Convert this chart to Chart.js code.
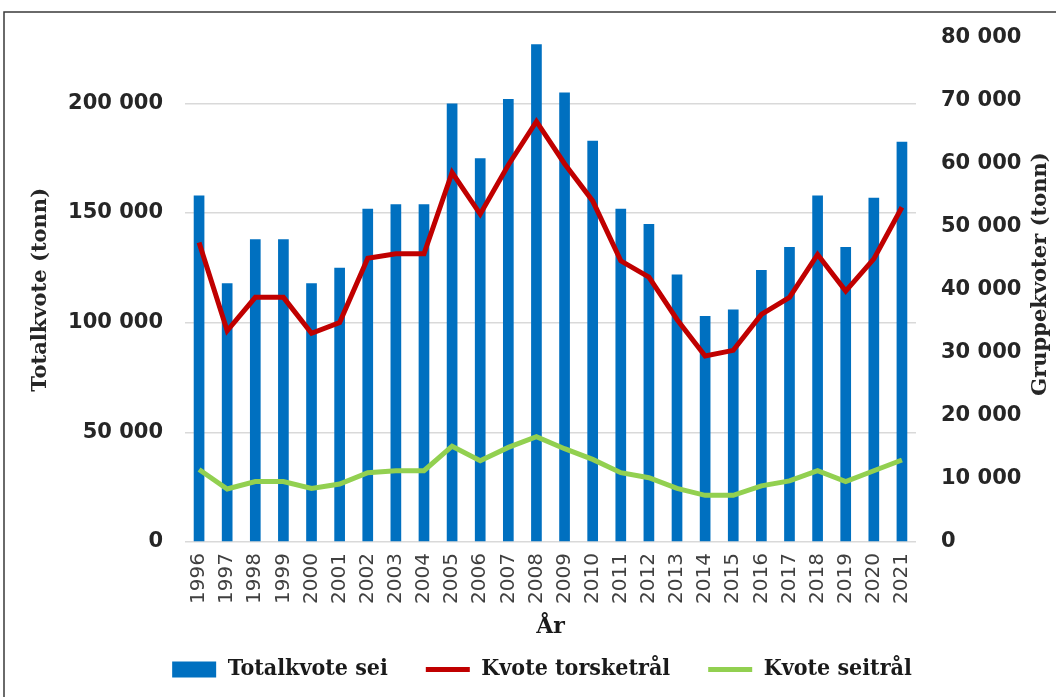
<!DOCTYPE html>
<html>
<head>
<meta charset="utf-8">
<script src="https://cdn.jsdelivr.net/npm/chart.js@4.4.0/dist/chart.umd.min.js"></script>
<style>
    html, body { margin: 0; padding: 0; background: #fff; overflow: hidden; }
</style>
</head>
<body>
<canvas id="quotaChart" width="1056" height="697"></canvas>
<script>
// data
const years = ['1996', '1997', '1998', '1999', '2000', '2001', '2002', '2003', '2004', '2005', '2006', '2007', '2008',
    '2009', '2010', '2011', '2012', '2013', '2014', '2015', '2016', '2017', '2018', '2019', '2020', '2021'];
const totalkvoteSei = [158000, 118000, 138000, 138000, 118000, 125000, 152000, 154000, 154000, 200000, 175000, 202000, 227000,
    205000, 183000, 152000, 145000, 122000, 103000, 106000, 124000, 134500, 158000, 134500, 157000, 182500];
const kvoteTorsketral = [47500, 33500, 38800, 38800, 33100, 34800, 45000, 45700, 45700, 58600, 52000, 59800, 66700,
    60000, 54100, 44600, 42000, 35300, 29500, 30400, 36100, 38800, 45600, 39800, 44900, 53100];
const kvoteSeitral = [11500, 8400, 9600, 9600, 8500, 9200, 11000, 11300, 11300, 15200, 12900, 15000, 16700,
    14800, 13100, 11000, 10200, 8500, 7400, 7400, 8900, 9700, 11300, 9600, 11300, 13000];
const leftTicks = [0, 50000, 100000, 150000, 200000];

const serif = '"DejaVu Serif", serif';
const serifCond = '"DejaVu Serif Condensed", "DejaVu Serif", serif';
const sans = '"DejaVu Sans", sans-serif';

function fmt(v) {
    return String(v).replace(/\B(?=(\d{3})+(?!\d))/g, ' ');
}

// outer frame of the figure
const framePlugin = {
    id: 'frame',
    beforeDraw(chart) {
        const ctx = chart.ctx;
        ctx.save();
        ctx.strokeStyle = '#3a3a3a';
        ctx.lineWidth = 1.5;
        ctx.beginPath();
        ctx.moveTo(4, chart.height + 5);
        ctx.lineTo(4, 12);
        ctx.lineTo(chart.width + 5, 12);
        ctx.stroke();
        ctx.restore();
    }
};

// right axis title reads bottom-to-top like the left one
const rightTitlePlugin = {
    id: 'rightTitle',
    afterDraw(chart) {
        const ctx = chart.ctx;
        ctx.save();
        ctx.translate(chart.width - 15, 274);
        ctx.rotate(-Math.PI / 2);
        ctx.font = 'bold 21px ' + serif;
        ctx.fillStyle = '#262626';
        ctx.textAlign = 'center';
        ctx.textBaseline = 'middle';
        ctx.fillText('Gruppekvoter (tonn)', 0, 0);
        ctx.restore();
    }
};

const ctx = document.getElementById('quotaChart').getContext('2d');
new Chart(ctx, {
    type: 'bar',
    data: {
        labels: years,
        datasets: [{
            label: 'Totalkvote sei',
            data: totalkvoteSei,
            backgroundColor: '#0070C0',
            yAxisID: 'y',
            order: 1,
            pointStyle: 'rect',
            barPercentage: 0.38,
            categoryPercentage: 1
        }, {
            type: 'line',
            label: 'Kvote torsketrål',
            data: kvoteTorsketral,
            borderColor: '#C00000',
            backgroundColor: '#C00000',
            borderWidth: 5,
            pointRadius: 0,
            pointStyle: 'line',
            tension: 0,
            yAxisID: 'y1',
            order: 0
        }, {
            type: 'line',
            label: 'Kvote seitrål',
            data: kvoteSeitral,
            borderColor: '#92D050',
            backgroundColor: '#92D050',
            borderWidth: 5,
            pointRadius: 0,
            pointStyle: 'line',
            tension: 0,
            yAxisID: 'y1',
            order: 0
        }]
    },
    options: {
        responsive: false,
        animation: false,
        layout: { padding: { top: 37, left: 28, right: 0, bottom: 6 } },
        plugins: {
            tooltip: { enabled: false },
            legend: {
                position: 'bottom',
                labels: {
                    usePointStyle: true,
                    pointStyleWidth: 44,
                    boxHeight: 16,
                    padding: 38,
                    color: '#1a1a1a',
                    font: { family: serifCond, size: 23, weight: 'bold' },
                    sort: (a, b) => a.datasetIndex - b.datasetIndex
                }
            }
        },
        scales: {
            x: {
                grid: { display: false },
                border: { display: false },
                ticks: {
                    minRotation: 90,
                    maxRotation: 90,
                    padding: 3,
                    color: '#404040',
                    font: { family: sans, size: 20 }
                },
                title: {
                    display: true,
                    text: 'År',
                    color: '#1a1a1a',
                    font: { family: serif, size: 22, weight: 'bold' },
                    padding: { top: 0, bottom: -20 }
                },
                afterFit: s => { s.height = 78; }
            },
            y: {
                position: 'left',
                min: 0,
                max: 230000,
                afterBuildTicks: axis => { axis.ticks = leftTicks.map(v => ({ value: v })); },
                grid: { color: '#d9d9d9', lineWidth: 1.5, drawTicks: false },
                border: { display: false },
                ticks: {
                    padding: 22,
                    color: '#262626',
                    font: { family: sans, size: 21, weight: 'bold' },
                    callback: v => fmt(v)
                },
                title: {
                    display: true,
                    text: 'Totalkvote (tonn)',
                    color: '#262626',
                    font: { family: serif, size: 21, weight: 'bold' },
                    padding: { top: 0, bottom: 0 }
                },
                afterFit: s => { s.width = 157; }
            },
            y1: {
                position: 'right',
                min: 0,
                max: 80000,
                grid: { display: false, drawTicks: false },
                border: { display: false },
                ticks: {
                    stepSize: 10000,
                    padding: 25,
                    color: '#262626',
                    font: { family: sans, size: 21, weight: 'bold' },
                    callback: v => fmt(v)
                },
                afterFit: s => { s.width = 140; }
            }
        }
    },
    plugins: [framePlugin, rightTitlePlugin]
});
</script>
</body>
</html>
